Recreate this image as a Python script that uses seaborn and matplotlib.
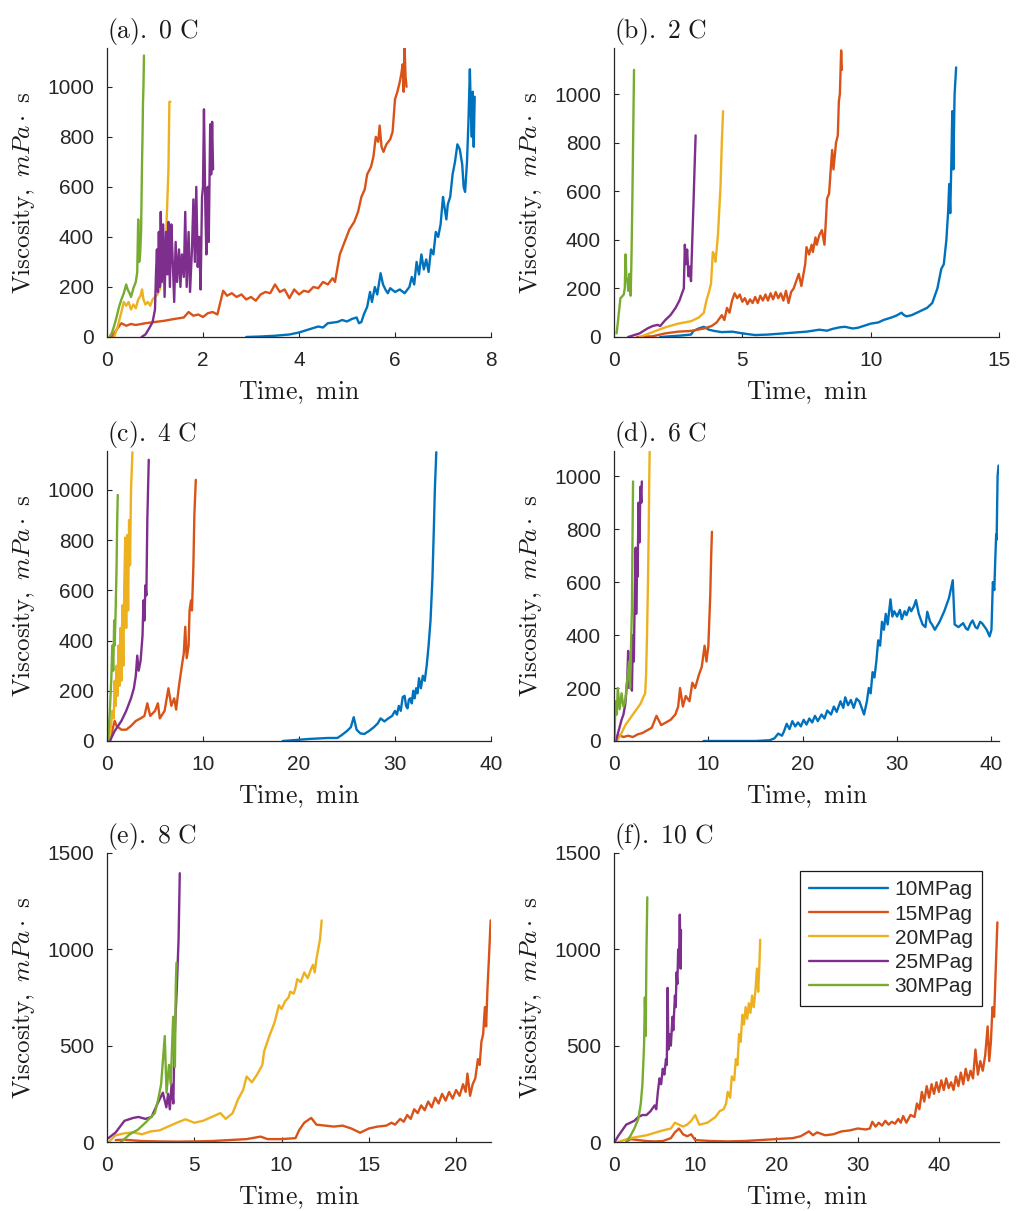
import matplotlib
matplotlib.use("Agg")
import numpy as np
import pandas as pd
import matplotlib.pyplot as plt
import seaborn as sns
from matplotlib.lines import Line2D

# ---------------- data (time in min, viscosity in mPa s) ----------------
PRESSURES = ["10MPag", "15MPag", "20MPag", "25MPag", "30MPag"]
COLORS = ["#0072BD", "#D95319", "#EDB120", "#7E2F8E", "#77AC30"]

# (a) 0 C
a10 = [(2.9,0),(3.2,2),(3.5,5),(3.8,10),(4.0,18),(4.2,30),(4.4,42),(4.5,38),(4.6,55),(4.8,60),(4.9,68),(5.0,62),
       (5.1,72),(5.2,78),(5.25,55),(5.3,60),(5.35,90),(5.42,120),(5.48,180),(5.52,140),(5.58,200),(5.63,170),(5.7,255),
       (5.75,210),(5.8,190),(5.85,175),(5.9,195),(6.0,180),(6.1,190),(6.2,175),(6.3,200),(6.35,240),(6.4,210),(6.45,300),
       (6.5,250),(6.55,330),(6.6,270),(6.65,310),(6.7,260),(6.75,350),(6.8,330),(6.85,420),(6.9,400),(6.95,450),(7.0,560),
       (7.03,520),(7.07,470),(7.1,530),(7.15,560),(7.2,650),(7.25,700),(7.3,770),(7.35,750),(7.4,690),(7.43,600),(7.46,580),
       (7.5,700),(7.53,860),(7.56,1070),(7.58,900),(7.6,800),(7.62,980),(7.64,760),(7.66,960)]
a15 = [(0.1,0),(0.2,30),(0.3,55),(0.4,45),(0.5,52),(0.6,48),(0.8,55),(1.0,60),(1.2,65),(1.4,72),(1.6,78),(1.7,100),
       (1.8,85),(1.9,90),(2.0,80),(2.1,95),(2.2,100),(2.3,90),(2.35,130),(2.42,185),(2.5,165),(2.6,175),(2.7,160),(2.8,170),
       (2.9,150),(3.0,160),(3.1,145),(3.2,170),(3.3,180),(3.4,175),(3.5,210),(3.6,180),(3.7,190),(3.8,155),(3.9,190),
       (4.0,170),(4.1,185),(4.2,180),(4.3,200),(4.4,195),(4.5,220),(4.6,210),(4.7,235),(4.75,220),(4.85,330),(4.95,380),
       (5.05,430),(5.15,460),(5.23,500),(5.3,560),(5.37,590),(5.42,650),(5.5,680),(5.55,720),(5.6,800),(5.65,780),(5.68,845),
       (5.72,760),(5.76,740),(5.82,770),(5.9,790),(5.95,820),(6.0,950),(6.05,980),(6.1,1020),(6.13,1050),(6.16,1090),
       (6.18,980),(6.2,1160),(6.22,1040),(6.24,1000)]
a20 = [(0.15,0),(0.22,40),(0.3,100),(0.35,140),(0.4,125),(0.45,140),(0.5,110),(0.55,130),(0.6,115),(0.65,150),(0.7,165),
       (0.73,190),(0.76,150),(0.8,130),(0.85,140),(0.9,125),(0.95,150),(1.0,160),(1.05,170),(1.1,190),(1.15,230),(1.18,270),
       (1.2,380),(1.22,300),(1.24,450),(1.26,560),(1.28,670),(1.3,940),(1.32,940)]
a25 = [(0.72,0),(0.8,10),(0.88,35),(0.95,60),(1.0,110),(1.02,250),(1.04,350),(1.06,180),(1.08,420),(1.1,200),(1.12,500),
       (1.14,220),(1.17,450),(1.2,160),(1.23,420),(1.26,250),(1.28,460),(1.31,200),(1.34,450),(1.37,300),(1.4,140),(1.43,380),
       (1.46,220),(1.5,350),(1.53,200),(1.56,330),(1.6,240),(1.63,500),(1.66,200),(1.7,420),(1.73,180),(1.77,350),(1.8,550),
       (1.83,300),(1.86,600),(1.89,280),(1.92,400),(1.95,190),(1.98,560),(2.0,600),(2.02,910),(2.05,500),(2.07,330),(2.1,600),
       (2.12,380),(2.15,850),(2.17,650),(2.19,860),(2.21,670)]
a30 = [(0.05,0),(0.1,15),(0.15,45),(0.2,80),(0.25,120),(0.3,150),(0.35,175),(0.4,210),(0.43,190),(0.47,175),(0.5,160),
       (0.55,195),(0.6,220),(0.63,260),(0.65,470),(0.67,300),(0.69,330),(0.71,420),(0.73,700),(0.74,800),(0.75,940),
       (0.76,1000),(0.77,1125)]

# (b) 2 C
b10 = [(1.8,0),(2.2,3),(2.6,6),(3.0,10),(3.1,25),(3.3,35),(3.5,42),(3.7,30),(3.9,25),(4.2,20),(4.6,22),(5.0,15),(5.5,8),
       (6.0,10),(6.5,14),(7.0,18),(7.5,22),(8.0,30),(8.3,26),(8.5,33),(8.8,40),(9.0,42),(9.3,35),(9.5,38),(9.8,48),(10.0,55),
       (10.3,60),(10.5,70),(10.8,80),(11.0,88),(11.2,100),(11.3,90),(11.4,85),(11.6,90),(11.9,105),(12.2,120),(12.4,140),
       (12.6,200),(12.75,280),(12.85,300),(12.95,400),(13.02,520),(13.06,630),(13.1,510),(13.14,700),(13.18,930),
       (13.22,690),(13.27,1000),(13.33,1110)]
b15 = [(0.9,0),(1.5,3),(2.0,15),(2.5,22),(3.0,25),(3.5,35),(3.8,45),(4.0,60),(4.2,90),(4.3,70),(4.4,120),(4.5,100),
       (4.6,150),(4.7,180),(4.8,160),(4.9,175),(5.0,145),(5.1,160),(5.2,135),(5.3,155),(5.4,140),(5.5,165),(5.6,140),
       (5.7,170),(5.8,150),(5.9,175),(6.0,150),(6.1,180),(6.2,155),(6.3,185),(6.4,160),(6.5,180),(6.6,150),(6.7,190),
       (6.8,140),(6.9,185),(7.0,200),(7.1,230),(7.2,260),(7.3,210),(7.45,300),(7.5,370),(7.6,340),(7.7,380),(7.75,350),
       (7.85,410),(7.9,380),(8.0,420),(8.1,440),(8.2,380),(8.25,470),(8.3,570),(8.38,590),(8.45,700),(8.5,770),(8.55,690),
       (8.65,800),(8.72,830),(8.76,970),(8.8,1000),(8.85,1180),(8.88,1100)]
b20 = [(1.0,0),(1.5,20),(2.0,40),(2.5,55),(3.0,65),(3.3,80),(3.5,100),(3.6,150),(3.7,185),(3.78,220),(3.85,350),
       (3.9,340),(3.95,310),(4.0,360),(4.05,420),(4.1,520),(4.15,620),(4.2,800),(4.25,930)]
b25 = [(0.55,0),(1.0,15),(1.3,35),(1.5,45),(1.7,50),(1.8,45),(2.0,70),(2.2,90),(2.4,120),(2.55,150),(2.65,180),(2.72,200),
       (2.76,380),(2.8,300),(2.85,360),(2.9,250),(2.95,290),(3.0,230),(3.05,400),(3.1,560),(3.14,700),(3.18,830)]
b30 = [(0.1,15),(0.15,60),(0.2,110),(0.25,160),(0.3,165),(0.38,175),(0.42,200),(0.45,340),(0.48,250),(0.52,230),
       (0.56,190),(0.6,260),(0.65,170),(0.68,320),(0.72,600),(0.75,850),(0.78,1100)]

# (c) 4 C
c10 = [(18.3,0),(19.0,2),(20.0,5),(21.0,8),(22.0,10),(23.0,12),(24.0,12),(24.5,25),(25.0,40),(25.4,55),(25.7,95),
       (26.0,45),(26.4,30),(26.8,28),(27.3,40),(27.8,55),(28.2,70),(28.5,90),(28.9,78),(29.3,90),(29.7,100),(30.0,120),
       (30.2,105),(30.4,140),(30.6,120),(30.8,175),(31.0,180),(31.15,140),(31.3,130),(31.45,165),(31.6,170),(31.75,150),
       (31.9,200),(32.05,170),(32.2,210),(32.35,190),(32.5,250),(32.7,210),(32.9,260),(33.1,240),(33.3,300),(33.5,380),
       (33.7,480),(33.9,650),(34.05,850),(34.15,1000),(34.3,1150)]
c15 = [(0.3,0),(0.6,50),(0.8,80),(1.0,60),(1.5,45),(2.0,45),(2.5,60),(3.0,80),(3.5,90),(3.9,100),(4.2,150),(4.5,100),
       (5.0,120),(5.3,150),(5.5,90),(6.0,120),(6.4,210),(6.7,140),(7.0,170),(7.2,125),(7.5,220),(7.8,300),(8.0,350),
       (8.15,455),(8.3,330),(8.5,380),(8.6,520),(8.75,560),(8.85,520),(9.0,700),(9.1,900),(9.25,1040)]
c20 = [(0.2,0),(0.4,50),(0.55,120),(0.7,90),(0.8,240),(0.9,140),(1.0,300),(1.1,180),(1.2,380),(1.3,220),(1.4,450),
       (1.5,240),(1.6,540),(1.7,300),(1.8,620),(1.9,810),(2.0,450),(2.1,820),(2.2,520),(2.3,880),(2.4,700),(2.5,1000),
       (2.65,1150)]
c25 = [(0.3,0),(0.8,40),(1.5,80),(2.0,120),(2.5,170),(2.8,210),(3.0,260),(3.15,340),(3.3,280),(3.5,320),(3.7,420),
       (3.8,560),(3.9,480),(4.0,620),(4.1,580),(4.2,880),(4.35,1120)]
c30 = [(0.1,0),(0.3,120),(0.45,250),(0.55,380),(0.65,280),(0.75,480),(0.8,380),(0.9,520),(1.0,700),(1.05,850),(1.12,980)]

# (d) 6 C
d10 = [(9.5,0),(12.0,0),(15.0,0),(16.5,3),(17.0,10),(17.4,28),(17.8,20),(18.0,35),(18.3,65),(18.6,45),(18.9,75),
       (19.2,55),(19.5,70),(19.8,55),(20.1,80),(20.4,62),(20.7,85),(21.0,70),(21.3,95),(21.6,75),(22.0,100),(22.3,85),
       (22.6,115),(23.0,100),(23.3,130),(23.6,110),(24.0,150),(24.3,125),(24.5,165),(24.8,135),(25.1,155),(25.4,125),
       (25.7,160),(26.0,150),(26.3,120),(26.5,100),(26.8,150),(27.0,200),(27.2,180),(27.4,260),(27.6,240),(27.8,300),
       (28.0,380),(28.2,360),(28.4,450),(28.6,420),(28.8,480),(29.0,440),(29.3,535),(29.5,470),(29.7,490),(30.0,470),
       (30.3,495),(30.5,460),(30.8,490),(31.0,475),(31.3,505),(31.5,490),(31.8,510),(32.0,532),(32.3,480),(32.5,460),
       (32.7,440),(33.0,430),(33.2,488),(33.5,450),(33.7,440),(34.0,420),(34.5,450),(35.0,490),(35.5,540),(35.9,607),
       (36.1,440),(36.5,430),(37.0,445),(37.3,425),(37.5,420),(37.8,445),(38.0,455),(38.3,430),(38.5,425),(38.8,450),
       (39.0,445),(39.3,430),(39.5,420),(39.8,395),(40.0,420),(40.15,600),(40.3,570),(40.4,680),(40.5,780),(40.55,760),
       (40.65,1000),(40.75,1040)]
d15 = [(0.2,0),(0.6,22),(1.0,15),(1.5,20),(2.0,15),(2.5,25),(3.0,30),(3.5,40),(4.0,50),(4.5,95),(5.0,60),(5.5,70),
       (6.0,80),(6.5,100),(6.8,130),(7.0,200),(7.3,130),(7.6,170),(8.0,150),(8.3,220),(8.6,200),(9.0,250),(9.3,280),
       (9.6,360),(9.8,300),(10.0,360),(10.2,550),(10.3,700),(10.38,790)]
d20 = [(0.3,0),(0.8,30),(1.2,60),(1.6,80),(2.0,100),(2.4,120),(2.8,140),(3.1,165),(3.3,180),(3.4,250),(3.5,400),
       (3.6,600),(3.68,800),(3.74,1000),(3.78,1095)]
d25 = [(0.2,0),(0.5,40),(0.8,80),(1.0,100),(1.2,140),(1.4,230),(1.5,340),(1.6,200),(1.8,220),(1.9,190),(2.0,400),
       (2.1,300),(2.2,550),(2.3,730),(2.35,480),(2.45,700),(2.5,620),(2.6,900),(2.7,750),(2.8,960),(2.9,900),(2.95,980)]
d30 = [(0.05,0),(0.15,150),(0.3,100),(0.4,200),(0.6,120),(0.8,180),(1.0,130),(1.2,150),(1.4,230),(1.6,300),(1.7,200),
       (1.8,350),(1.9,500),(1.97,800),(2.02,980)]

# (e) 8 C
e15 = [(0.5,10),(1.0,12),(2.0,5),(3.0,3),(4.0,2),(5.0,3),(6.0,5),(7.0,10),(8.0,15),(8.8,28),(9.2,15),(10.0,15),
       (10.8,20),(11.0,60),(11.3,100),(11.7,125),(12.0,90),(12.5,85),(13.0,80),(13.5,85),(14.0,70),(14.5,48),(15.0,70),
       (15.5,80),(16.0,85),(16.3,100),(16.5,90),(16.8,120),(17.0,105),(17.2,140),(17.4,120),(17.6,170),(17.8,150),
       (18.0,190),(18.2,165),(18.4,210),(18.6,180),(18.8,230),(19.0,200),(19.2,250),(19.4,215),(19.6,260),(19.8,225),
       (20.0,270),(20.2,240),(20.4,300),(20.55,260),(20.65,355),(20.8,240),(20.95,300),(21.1,330),(21.25,430),(21.35,400),
       (21.45,520),(21.55,560),(21.65,700),(21.72,600),(21.8,800),(21.88,950),(21.98,1150)]
e20 = [(0.1,0),(0.5,35),(1.0,45),(1.5,50),(2.0,40),(2.5,55),(3.0,60),(3.5,80),(4.0,100),(4.5,118),(5.0,100),(5.5,110),
       (6.0,130),(6.5,150),(6.8,120),(7.2,150),(7.5,220),(7.8,270),(8.0,340),(8.3,310),(8.6,350),(8.9,400),(9.0,470),
       (9.3,550),(9.6,620),(9.85,710),(10.0,690),(10.2,730),(10.4,750),(10.5,780),(10.7,770),(10.8,800),(10.9,845),
       (11.1,830),(11.3,880),(11.5,850),(11.7,900),(11.8,920),(11.9,880),(12.0,950),(12.1,1000),(12.2,1050),(12.3,1150)]
e25 = [(0.08,20),(0.5,50),(1.0,110),(1.5,125),(1.8,130),(2.2,120),(2.55,130),(2.9,200),(3.2,256),(3.4,180),(3.5,250),
       (3.6,170),(3.7,300),(3.8,200),(3.85,450),(3.9,600),(4.0,800),(4.1,1050),(4.17,1395)]
e30 = [(0.8,0),(1.3,40),(1.77,64),(2.2,100),(2.74,150),(2.93,220),(3.1,300),(3.31,550),(3.41,255),(3.55,400),(3.65,300),
       (3.79,650),(3.89,390),(3.94,800),(3.98,930)]

# (f) 10 C
f15 = [(1.5,0),(2.0,15),(3.0,10),(4.0,5),(5.0,3),(6.0,5),(7.0,20),(7.5,50),(8.0,70),(8.5,40),(9.0,30),(9.5,40),(10.0,10),
       (12.0,5),(14.0,3),(16.0,5),(18.0,10),(20.0,15),(22.0,20),(23.0,30),(24.0,55),(24.5,35),(25.0,50),(26.0,35),
       (27.0,40),(28.0,55),(29.0,60),(30.0,70),(31.0,65),(31.5,70),(31.8,105),(32.2,80),(32.6,100),(33.0,85),(33.4,110),
       (33.8,90),(34.2,105),(34.6,95),(35.0,120),(35.3,100),(35.6,135),(36.0,100),(36.5,140),(37.0,130),(37.3,200),
       (37.6,170),(37.9,260),(38.2,210),(38.5,290),(38.8,230),(39.1,300),(39.4,250),(39.7,310),(40.0,260),(40.3,320),
       (40.6,270),(40.9,330),(41.2,280),(41.5,310),(41.8,270),(42.1,340),(42.4,290),(42.7,360),(43.0,300),(43.3,380),
       (43.6,320),(43.9,370),(44.2,330),(44.5,480),(44.8,350),(45.1,420),(45.4,370),(45.7,450),(46.0,600),(46.2,420),
       (46.4,520),(46.6,700),(46.8,650),(47.0,900),(47.2,1140)]
f20 = [(0.5,0),(2.0,20),(4.0,35),(6.0,60),(7.0,70),(7.5,100),(8.0,90),(8.5,80),(9.0,90),(9.5,110),(10.0,140),
       (10.5,90),(11.5,100),(12.5,130),(13.0,160),(13.5,170),(13.8,200),(14.0,260),(14.3,230),(14.5,340),(14.8,320),
       (15.0,430),(15.2,400),(15.4,560),(15.6,520),(15.8,660),(16.0,610),(16.2,700),(16.4,640),(16.6,720),(16.8,670),
       (17.0,760),(17.2,700),(17.4,780),(17.6,900),(17.75,780),(17.9,920),(18.0,1050)]
f25 = [(0.1,0),(0.5,30),(1.0,60),(1.5,90),(2.0,100),(2.5,110),(3.0,130),(3.5,140),(4.0,140),(4.5,160),(5.0,190),
       (5.2,170),(5.4,260),(5.6,330),(5.8,300),(6.0,380),(6.2,350),(6.4,430),(6.5,400),(6.6,800),(6.7,480),(6.9,560),
       (7.0,500),(7.2,650),(7.3,580),(7.5,760),(7.6,700),(7.7,880),(7.8,820),(7.9,1000),(8.0,930),(8.1,1180),(8.2,900),
       (8.25,1100)]
f30 = [(1.5,0),(2.0,30),(2.5,70),(3.0,120),(3.3,200),(3.5,300),(3.7,500),(3.8,750),(3.9,550),(4.0,1000),(4.1,1270)]

TITLES = [r"$\mathrm{(a).\ 0\ C}$", r"$\mathrm{(b).\ 2\ C}$", r"$\mathrm{(c).\ 4\ C}$",
          r"$\mathrm{(d).\ 6\ C}$", r"$\mathrm{(e).\ 8\ C}$", r"$\mathrm{(f).\ 10\ C}$"]
SERIES = [
    {"10MPag": a10, "15MPag": a15, "20MPag": a20, "25MPag": a25, "30MPag": a30},
    {"10MPag": b10, "15MPag": b15, "20MPag": b20, "25MPag": b25, "30MPag": b30},
    {"10MPag": c10, "15MPag": c15, "20MPag": c20, "25MPag": c25, "30MPag": c30},
    {"10MPag": d10, "15MPag": d15, "20MPag": d20, "25MPag": d25, "30MPag": d30},
    {"15MPag": e15, "20MPag": e20, "25MPag": e25, "30MPag": e30},
    {"15MPag": f15, "20MPag": f20, "25MPag": f25, "30MPag": f30},
]
XLIMS = [8, 15, 40, 40.8, 22, 47.4]
YLIMS = [1155, 1190, 1155, 1095, 1500, 1500]
XTICKS = [[0, 2, 4, 6, 8], [0, 5, 10, 15], [0, 10, 20, 30, 40], [0, 10, 20, 30, 40],
          [0, 5, 10, 15, 20], [0, 10, 20, 30, 40]]
YTICKS = [[0, 200, 400, 600, 800, 1000]] * 4 + [[0, 500, 1000, 1500]] * 2

# ---------------- style ----------------
sns.set_style("ticks")
plt.rcParams["font.family"] = ["Liberation Sans", "DejaVu Sans"]
plt.rcParams["mathtext.fontset"] = "cm"

W, H = 1018, 1211
fig = plt.figure(figsize=(W / 100, H / 100), dpi=100)
lefts = [107, 614]
rights = [491, 999]
tops = [48, 451, 853]
bottoms = [337, 741, 1142]
palette = dict(zip(PRESSURES, COLORS))
TXT = "#262626"

for i in range(6):
    r, c = divmod(i, 2)
    rect = [lefts[c] / W, 1 - bottoms[r] / H, (rights[c] - lefts[c]) / W, (bottoms[r] - tops[r]) / H]
    ax = fig.add_axes(rect)
    rows = []
    for p, pts in SERIES[i].items():
        for order, (t, v) in enumerate(pts):
            rows.append({"Pressure": p, "Time": t, "Viscosity": v, "order": order})
    df = pd.DataFrame(rows)
    present = [p for p in PRESSURES if p in SERIES[i]]
    sns.lineplot(data=df, x="Time", y="Viscosity", hue="Pressure", hue_order=present,
                 palette=palette, estimator=None, sort=False, linewidth=1.7,
                 legend=False, ax=ax)
    ax.set_xlim(0, XLIMS[i])
    ax.set_ylim(0, YLIMS[i])
    ax.set_xticks(XTICKS[i])
    ax.set_yticks(YTICKS[i])
    sns.despine(ax=ax)
    for s in ("left", "bottom"):
        ax.spines[s].set_color(TXT)
        ax.spines[s].set_linewidth(0.9)
    ax.tick_params(direction="in", length=3.5, width=0.8, colors=TXT, labelsize=15)
    ax.tick_params(axis="x", pad=10)
    ax.tick_params(axis="y", pad=9.5)
    ax.set_title(TITLES[i], loc="left", fontsize=18.5, pad=7, color="#1a1a1a")
    ax.set_xlabel(r"$\mathrm{Time,\ min}$", fontsize=18.5, color="#1a1a1a")
    ax.set_ylabel(r"$\mathrm{Viscosity,}\ mPa\cdot\ \mathrm{s}$", fontsize=18, color="#1a1a1a")
    ax.xaxis.set_label_coords(0.5, -0.145)
    ax.yaxis.set_label_coords(-0.183, 0.5)

    if i == 5:
        handles = [Line2D([0], [0], color=palette[p], lw=1.7) for p in PRESSURES]
        leg = ax.legend(handles, PRESSURES, loc="upper right", bbox_to_anchor=(0.956, 0.938),
                        borderaxespad=0, frameon=True, fancybox=False, fontsize=15,
                        handlelength=3.8, handletextpad=0.3, labelspacing=0.25,
                        borderpad=0.45, framealpha=1)
        leg.get_frame().set_edgecolor("#1a1a1a")
        leg.get_frame().set_linewidth(0.9)
        for t in leg.get_texts():
            t.set_color(TXT)

fig.savefig("out.png", dpi=100, facecolor="white")
